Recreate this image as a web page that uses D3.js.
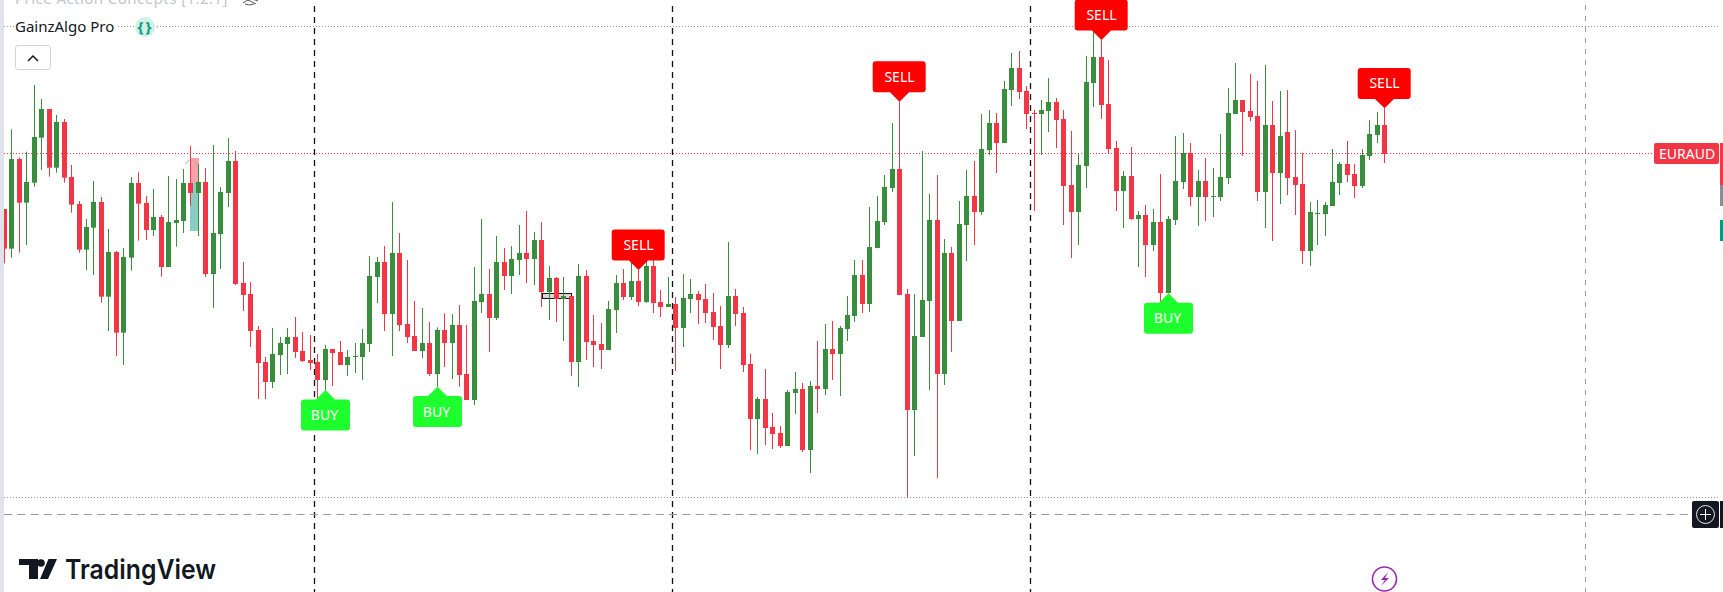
<!DOCTYPE html>
<html>
<head>
<meta charset="utf-8">
<script src="https://cdn.jsdelivr.net/npm/d3@7/dist/d3.min.js"></script>
<style>html,body{margin:0;padding:0;background:#fff;overflow:hidden}svg{display:block}text{font-family:"Noto Sans",sans-serif}</style>
</head>
<body>
<svg id="c" width="1723" height="592"></svg>
<script>
// Candle values, in chart points
const opens=[2373,2254,2523,2392,2452,2587,2673,2497,2634,2469,2388,2251,2317,2394,2110,2244,2002,2227,2451,2391,2310,2349,2199,2331,2337,2451,2421,2454,2178,2298,2421,2517,2151,2118,2010,1914,1854,1935,1968,1989,1947,1920,1914,1860,1953,1944,1905,1929,1929,1968,2169,2214,2058,2241,2028,1992,1947,1971,1878,2010,1971,2025,1878,1800,2094,2118,2046,2214,2172,2220,2241,2223,2280,2124,2166,2103,2112,1914,2172,1977,1968,1950,2070,2151,2109,2157,2094,2202,2094,2079,2088,2016,2103,2118,2103,2064,2022,1965,2112,2061,1908,1743,1803,1719,1701,1662,1821,1833,1650,1842,1833,1953,1938,2013,2052,2175,2088,2256,2334,2436,2493,2118,1770,1989,2097,2340,1878,2241,2037,2325,2412,2364,2550,2631,2571,2730,2796,2727,2661,2658,2667,2694,2643,2445,2364,2502,2751,2829,2688,2556,2427,2472,2343,2355,2265,2334,2121,2340,2454,2541,2409,2457,2409,2409,2466,2658,2700,2667,2652,2424,2625,2481,2604,2469,2448,2247,2358,2358,2382,2451,2508,2478,2442,2532,2595,2625];
const highs=[2373,2612,2528,2545,2745,2703,2673,2655,2643,2505,2397,2343,2457,2409,2313,2247,2256,2469,2483,2412,2433,2355,2472,2463,2493,2562,2508,2496,2565,2439,2586,2547,2214,2154,2022,1929,2016,1989,2016,2049,2004,1995,1938,1965,1953,1977,1950,1971,2013,2232,2229,2262,2394,2301,2220,2097,2076,2034,2018,2060,2058,2085,2025,2199,2343,2193,2292,2256,2262,2325,2367,2304,2334,2202,2169,2169,2112,2208,2190,2055,2031,2097,2175,2193,2214,2190,2226,2220,2130,2169,2109,2178,2163,2127,2148,2121,2082,2274,2133,2079,1938,1809,1893,1761,1722,1830,1884,1851,1857,1977,2028,2037,2022,2112,2220,2220,2379,2412,2475,2631,2695,2133,2118,2547,2418,2475,2283,2259,2397,2490,2517,2658,2670,2661,2757,2841,2847,2742,2670,2700,2766,2706,2670,2607,2541,2832,2922,2880,2820,2577,2487,2559,2367,2385,2373,2478,2352,2592,2601,2571,2490,2526,2496,2598,2736,2811,2700,2778,2757,2805,2697,2727,2730,2610,2541,2394,2400,2394,2553,2514,2577,2508,2553,2640,2664,2675];
const lows=[2210,2227,2242,2265,2440,2490,2470,2482,2452,2362,2242,2190,2175,2092,2007,1932,1905,2188,2278,2280,2292,2170,2199,2260,2301,2382,2292,2169,2076,2193,2379,2145,2067,1959,1803,1803,1836,1875,1878,1926,1914,1890,1788,1830,1842,1905,1872,1881,1860,1944,2091,2007,1932,2007,1971,1947,1926,1872,1840,1899,1863,1840,1800,1785,2061,1944,2040,2130,2118,2175,2151,2145,2079,2040,2034,1977,1872,1839,1920,1899,1893,1950,2001,2100,2100,2082,2091,2061,2049,2079,1887,1959,2061,2028,2031,1980,1893,1956,2022,1884,1650,1638,1665,1653,1656,1662,1758,1644,1581,1761,1815,1860,1812,1977,2034,2061,2064,2256,2325,2424,2115,1508,1632,1989,1830,1566,1845,1944,2037,2217,2265,2355,2535,2481,2571,2682,2703,2613,2367,2535,2604,2556,2325,2226,2265,2436,2679,2643,2538,2367,2316,2340,2199,2169,2247,2094,2120,2325,2433,2382,2322,2337,2349,2397,2448,2658,2532,2637,2397,2316,2277,2388,2415,2355,2208,2202,2265,2292,2382,2415,2454,2406,2436,2520,2571,2511];
const closes=[2254,2523,2392,2454,2589,2673,2497,2634,2467,2386,2251,2319,2394,2110,2244,2002,2229,2451,2389,2310,2349,2199,2334,2340,2451,2421,2454,2178,2301,2424,2517,2148,2115,2007,1911,1854,1938,1971,1989,1944,1917,1911,1860,1953,1941,1905,1929,1932,1971,2172,2214,2058,2241,2025,1989,1947,1971,1878,2010,1971,2025,1875,1800,2097,2118,2046,2214,2172,2223,2241,2223,2280,2124,2166,2103,2112,1914,2172,1974,1965,1950,2073,2151,2109,2157,2094,2202,2091,2079,2088,2016,2106,2118,2100,2061,2019,1965,2112,2058,1905,1743,1803,1716,1698,1662,1824,1833,1650,1842,1833,1953,1938,2016,2055,2175,2088,2259,2337,2439,2493,2115,1770,1992,2100,2340,1878,2241,2037,2328,2412,2364,2553,2631,2571,2733,2796,2724,2658,2658,2670,2694,2640,2442,2364,2505,2754,2829,2685,2553,2427,2472,2343,2355,2265,2334,2121,2343,2457,2541,2409,2457,2409,2412,2469,2661,2700,2664,2649,2424,2625,2481,2592,2466,2445,2247,2364,2361,2385,2454,2508,2475,2442,2535,2598,2625,2538];
// Signal candles
const sellSignals=[85,120,147,185];
const buySignals=[43,58,156];
const sellLabel="SELL", buyLabel="BUY";
// Text
const indicatorTop="Price Action Concepts [1:2:1]";
const indicatorName="GainzAlgo Pro";
const symbolLabel="EURAUD";
const brand="TradingView";
// Session separators and reference levels (candle index / chart points)
const sessionCandles=[41,89,137];
const futureSeparatorIndex=212;
const dottedLevels=[2922,1508];
const lastLevel=2538;
const crosshairLevel=1458;

const W=1723,H=592;
const RED="#f23645",GREEN="#388e3c";
const svg=d3.select("#c");
const x=d3.scaleLinear().domain([0,185]).range([3.9,1384.2]);
const y=d3.scaleLinear().domain([3000,1224]).range([0,592]);
const px=i=>Math.round(x(i));
const candles=opens.map((o,i)=>({i,o,h:highs[i],l:lows[i],c:closes[i]}));

// reference levels
svg.append("g").selectAll("line").data(dottedLevels).join("line")
 .attr("x1",4).attr("x2",1718).attr("y1",d=>Math.round(y(d))+.5).attr("y2",d=>Math.round(y(d))+.5)
 .attr("stroke","#8f929b").attr("stroke-dasharray","1 2");
svg.append("line").attr("x1",4).attr("x2",1654).attr("y1",Math.round(y(lastLevel))-.5).attr("y2",Math.round(y(lastLevel))-.5)
 .attr("stroke",RED).attr("stroke-dasharray","1 2");
// separators
svg.append("g").selectAll("line").data(sessionCandles).join("line")
 .attr("x1",d=>Math.round(x(d+.5))+.5).attr("x2",d=>Math.round(x(d+.5))+.5)
 .attr("y1",6).attr("y2",592).attr("stroke","#111").attr("stroke-width",1.3).attr("stroke-dasharray","6 5");
svg.append("line").attr("x1",Math.round(x(futureSeparatorIndex))-.5).attr("x2",Math.round(x(futureSeparatorIndex))-.5)
 .attr("y1",5).attr("y2",592).attr("stroke","#9a9a9a").attr("stroke-dasharray","5 6");
svg.append("line").attr("x1",4).attr("x2",1692).attr("y1",Math.round(y(crosshairLevel))+.5).attr("y2",Math.round(y(crosshairLevel))+.5)
 .attr("stroke","#9a9a9a").attr("stroke-dasharray","8 5.3");

// position tool behind candles
svg.append("rect").attr("x",190).attr("y",158).attr("width",9).attr("height",25).attr("fill","#f7a3ab");
svg.append("rect").attr("x",190).attr("y",183).attr("width",9).attr("height",48).attr("fill","#88ccc4");
svg.append("path").attr("d","M185.5 164 L189 160 M193.5 161 L197.5 164").attr("stroke","#aaa").attr("fill","none");
svg.append("rect").attr("x",542.5).attr("y",293.5).attr("width",29).attr("height",5).attr("fill","#d8d8d8").attr("stroke","#111");

// candles
const g=svg.append("g");
g.selectAll("rect.w").data(candles).join("rect").attr("class","w")
 .attr("x",d=>px(d.i)).attr("width",1)
 .attr("y",d=>y(d.h)).attr("height",d=>Math.max(1,y(d.l)-y(d.h)))
 .attr("fill",d=>d.c>=d.o?GREEN:RED);
g.selectAll("rect.b").data(candles).join("rect").attr("class","b")
 .attr("x",d=>px(d.i)-2).attr("width",5)
 .attr("y",d=>y(Math.max(d.o,d.c))).attr("height",d=>Math.max(1,Math.abs(y(d.o)-y(d.c))))
 .attr("fill",d=>d.c>=d.o?GREEN:RED);

// signals
const bw=53,bh=31,tip=9.4;
function sellPath(cx,ty){const t=ty-tip,b=t-bh,l=cx-bw/2+.2,r=cx+bw/2+.2;
 return `M${cx+.5} ${ty} L${cx-9} ${t} L${l+3} ${t} Q${l} ${t} ${l} ${t-3} L${l} ${b+3} Q${l} ${b} ${l+3} ${b} L${r-3} ${b} Q${r} ${b} ${r} ${b+3} L${r} ${t-3} Q${r} ${t} ${r-3} ${t} L${cx+10} ${t} Z`;}
const sells=svg.append("g").selectAll("g").data(sellSignals).join("g");
sells.append("path").attr("d",i=>sellPath(px(i),y(highs[i]))).attr("fill","#ff0000");
sells.append("text").attr("x",i=>px(i)+.5).attr("y",i=>y(highs[i])-tip-bh/2+5).attr("text-anchor","middle")
 .attr("fill","#fff").attr("font-size",14).text(sellLabel);
const bbw=49;
function buyPath(cx,ty){const t=ty+tip,b=t+bh,l=cx-bbw/2+.5,r=cx+bbw/2+.5;
 return `M${cx+.5} ${ty} L${cx-9} ${t} L${l+3} ${t} Q${l} ${t} ${l} ${t+3} L${l} ${b-3} Q${l} ${b} ${l+3} ${b} L${r-3} ${b} Q${r} ${b} ${r} ${b-3} L${r} ${t+3} Q${r} ${t} ${r-3} ${t} L${cx+10} ${t} Z`;}
const buys=svg.append("g").selectAll("g").data(buySignals).join("g");
buys.append("path").attr("d",i=>buyPath(px(i),y(lows[i]))).attr("fill","#1eff2e");
buys.append("text").attr("x",i=>px(i)-.5).attr("y",i=>y(lows[i])+tip+bh/2+5).attr("text-anchor","middle")
 .attr("fill","#fff").attr("font-size",14).text(buyLabel);

// left strip
svg.append("rect").attr("x",0).attr("y",0).attr("width",4).attr("height",H).attr("fill","#e0e3eb");

// legend
svg.append("text").attr("x",15).attr("y",4).attr("fill","#c4c6cc").attr("font-size",15).attr("letter-spacing",.45).text(indicatorTop);
svg.append("path").attr("d","M243 3 Q250 -3 258 1 M246 -1 L256 4 M245 4 Q250 6 254 4").attr("fill","none").attr("stroke","#555");
svg.append("rect").attr("x",14).attr("y",17).attr("width",104).attr("height",20).attr("fill","#fff");
svg.append("text").attr("x",15).attr("y",32).attr("fill","#131722").attr("font-size",15).text(indicatorName);
svg.append("circle").attr("cx",145).attr("cy",27).attr("r",10).attr("fill","#d3f0e6");
svg.append("text").attr("x",145.5).attr("y",32).attr("text-anchor","middle").attr("fill","#089981").attr("font-size",15).attr("font-weight",700).attr("letter-spacing",2).text("{}");
svg.append("rect").attr("x",15.5).attr("y",45.5).attr("width",35).attr("height",24).attr("rx",2.5).attr("fill","#fff").attr("stroke","#d1d4dc");
svg.append("path").attr("d","M28 61 L33 56 L38 61").attr("fill","none").attr("stroke","#131722").attr("stroke-width",1.5);

// right side
svg.append("rect").attr("x",1654).attr("y",143).attr("width",65).attr("height",21).attr("rx",2).attr("fill",RED);
svg.append("text").attr("x",1659).attr("y",159).attr("fill","#fff").attr("font-size",14).text(symbolLabel);
svg.append("rect").attr("x",1720).attr("y",143).attr("width",3).attr("height",42).attr("fill",RED);
svg.append("rect").attr("x",1720).attr("y",185).attr("width",3).attr("height",21).attr("fill","#8a8d96");
svg.append("rect").attr("x",1720).attr("y",220).attr("width",3).attr("height",21).attr("fill","#089981");
svg.append("rect").attr("x",1692).attr("y",501).attr("width",27).attr("height",27).attr("rx",2).attr("fill","#131722");
svg.append("rect").attr("x",1720).attr("y",501).attr("width",3).attr("height",27).attr("fill","#131722");
svg.append("circle").attr("cx",1705.5).attr("cy",514.5).attr("r",9).attr("fill","none").attr("stroke","#e8e8e8");
svg.append("path").attr("d","M1700 514.5 H1711 M1705.5 509 V520").attr("stroke","#fff");
svg.append("circle").attr("cx",1384.5).attr("cy",579).attr("r",12).attr("fill","#fff").attr("stroke","#9c27b0").attr("stroke-width",1.6);
svg.append("path").attr("d","M1388 572 L1381 580 L1385 580 L1381 586 L1389 578 L1385 578 Z").attr("fill","#9c27b0");

// logo
svg.append("path").attr("d","M19 559 H38 V579 H29 V565 H19 Z M57 559 L48 579 H40 L48.5 559 Z").attr("fill","#131722");
svg.append("circle").attr("cx",41).attr("cy",563).attr("r",3.8).attr("fill","#131722");
svg.append("text").attr("x",65).attr("y",579).attr("fill","#131722").attr("font-weight",600).attr("font-size",27).attr("textLength",151).attr("lengthAdjust","spacingAndGlyphs").style("font-family","Inter").text(brand);
</script>
</body>
</html>
